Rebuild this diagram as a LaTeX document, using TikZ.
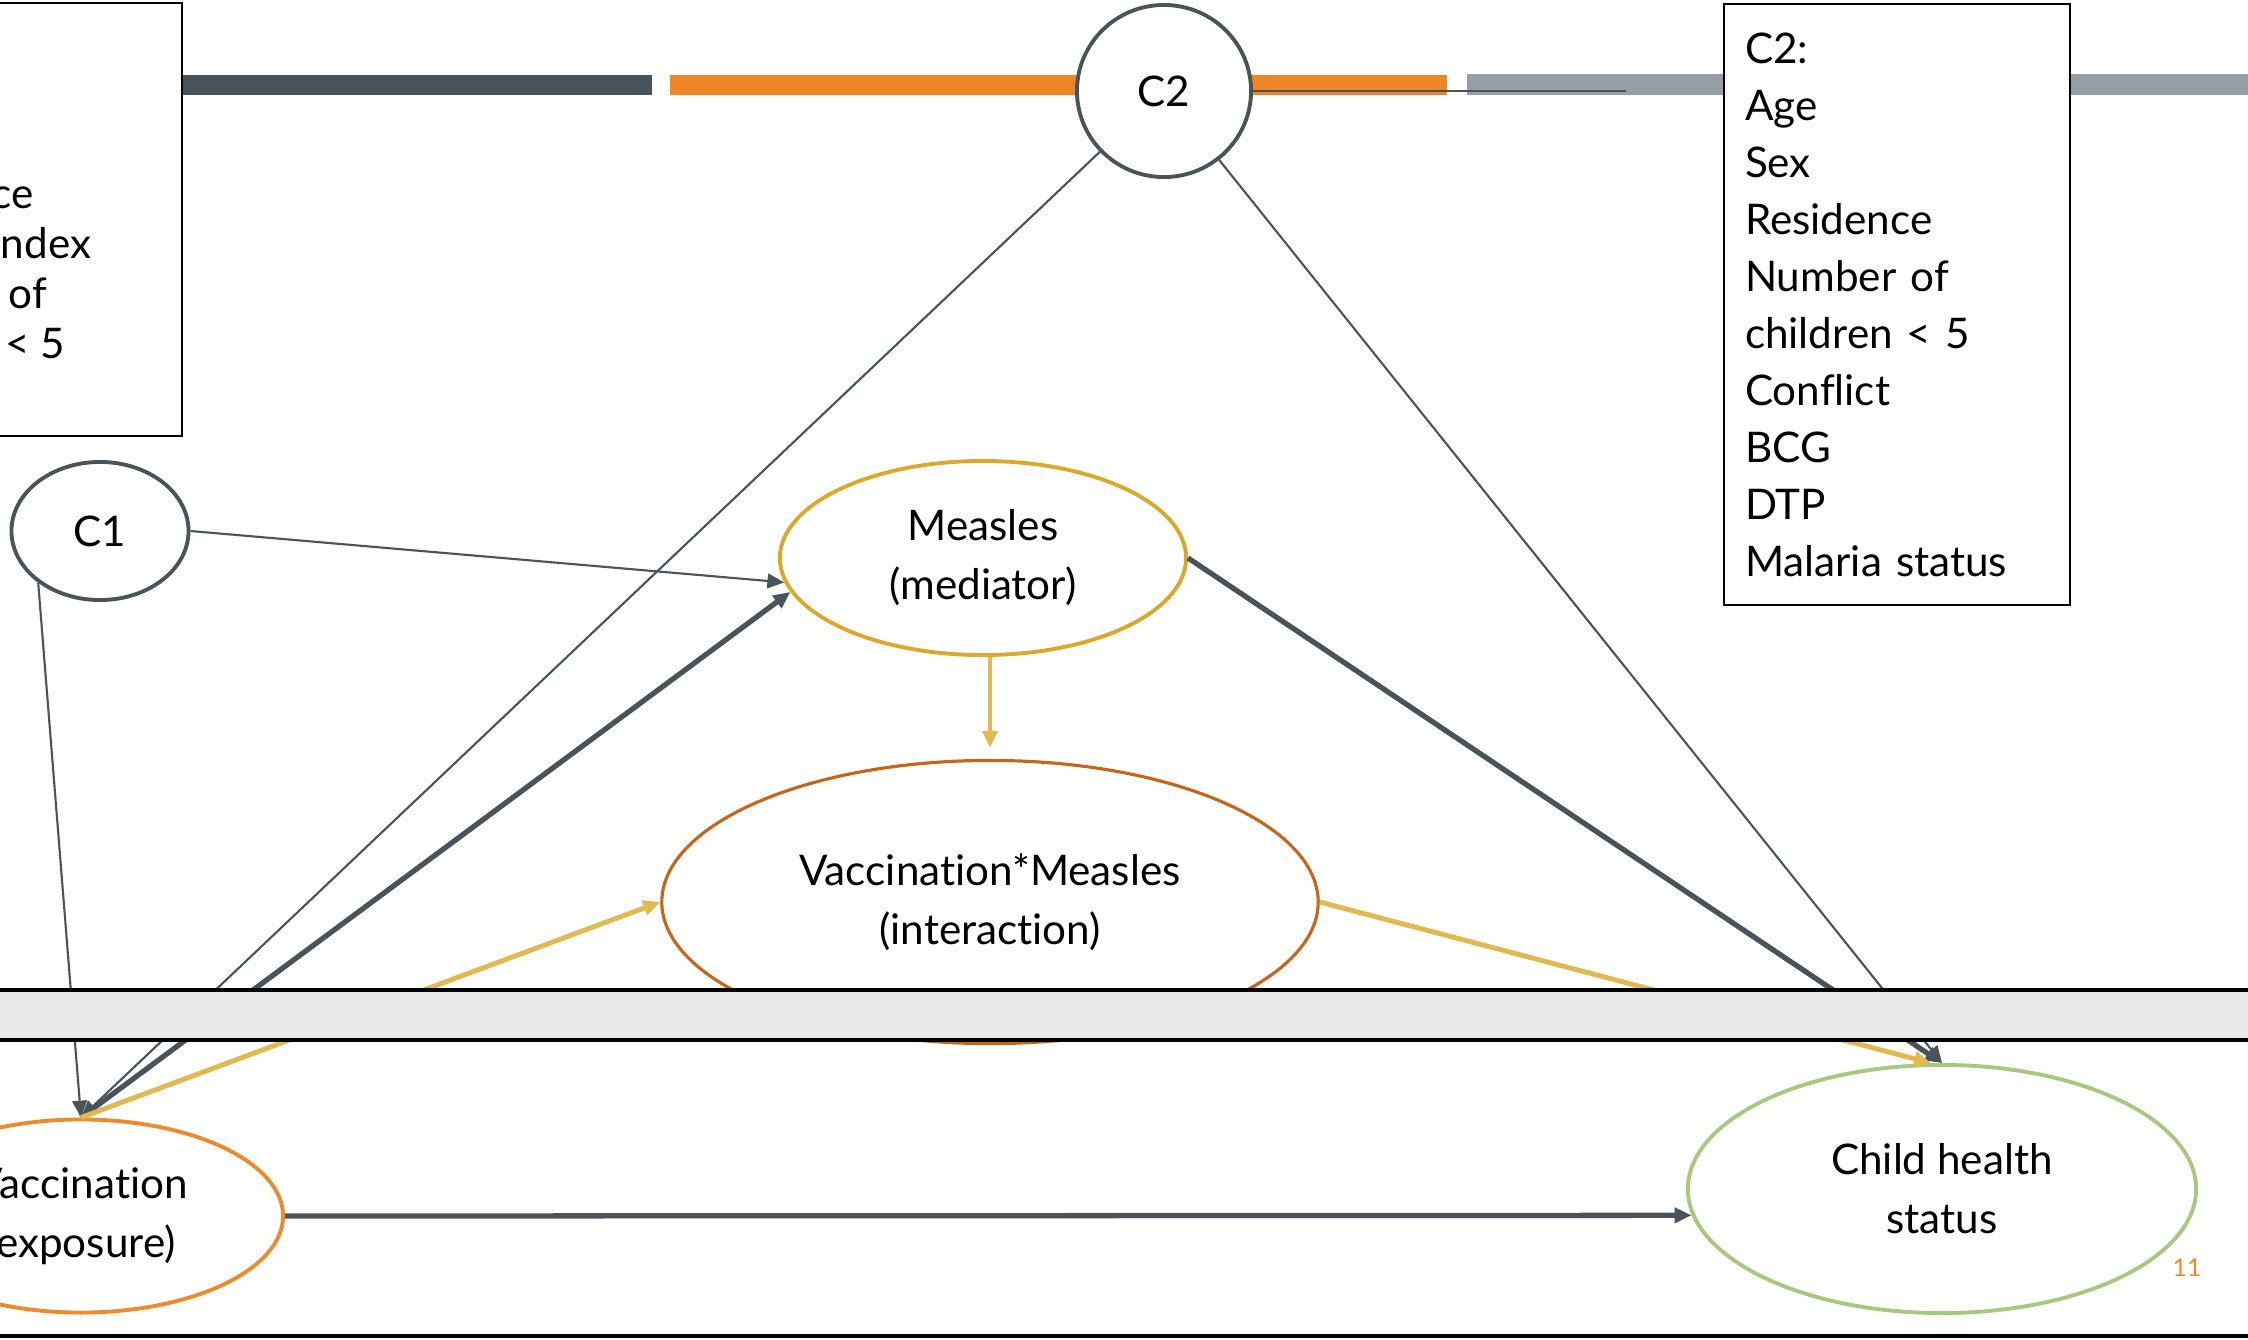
\documentclass[tikz,border=0pt]{standalone}
\usepackage{fontspec}
\setmainfont{Lato}[Ligatures=NoCommon]
\usetikzlibrary{shapes.geometric,arrows.meta,positioning}

\definecolor{slate}{HTML}{48535A}
\definecolor{barorange}{HTML}{EE8628}
\definecolor{bargray}{HTML}{969FA8}
\definecolor{gold}{HTML}{DCA82A}
\definecolor{mustard}{HTML}{E2B94E}
\definecolor{rust}{HTML}{C4661B}
\definecolor{tangerine}{HTML}{EE8A2C}
\definecolor{sage}{HTML}{A8C77F}
\definecolor{bandgray}{HTML}{E9E9E9}

\begin{document}
\begin{tikzpicture}[x=0.01cm, y=-0.01cm, font=\fontsize{12}{16.8}\selectfont,
        >={Triangle[length=4.8pt,width=4.2pt]},
        var/.style={ellipse, draw, fill=white, line width=1.1pt, inner sep=0pt, align=center},
        conf/.style={var, draw=slate},
        listbox/.style={draw=black, fill=white, line width=0.6pt, inner sep=0pt},
        weak/.style={draw=slate, line width=0.6pt},
        strong/.style={draw=slate, line width=1.5pt},
        yellowline/.style={draw=mustard, line width=1.4pt}]
        \useasboundingbox (0,0) rectangle (2248,1339);
        \clip (0,0) rectangle (2248,1339);
        \fill[slate] (183,75) rectangle (652,95);
        \fill[barorange] (670,75) rectangle (1447,95);
        \fill[bargray] (1467,74) rectangle (2248,95);
        \node[listbox, anchor=north east, minimum width=5cm, minimum height=4.33cm] (c1list) at (183,2) {};
        \node[anchor=north west, align=left, inner sep=0pt, font=\fontsize{12}{14.2}\selectfont] (c1items) at (-154,177)
            {Residence\\Wealth index\\Number of\\children < 5};
        \node[listbox, anchor=north west, align=left, text width=3.04cm, inner xsep=0.21cm,
            minimum height=6.01cm, font=\fontsize{12}{16.2}\selectfont] (c2list) at (1723,3)
            {C2:\\Age\\Sex\\Residence\\Number of\\children < 5\\Conflict\\BCG\\DTP\\Malaria status};
        \node[conf, minimum width=1.74cm, minimum height=1.72cm] (c2) at (1164,91) {C2};
        \node[conf, minimum width=1.77cm, minimum height=1.38cm] (c1) at (100,531) {C1};
        \node[var, draw=gold, minimum width=4.06cm, minimum height=1.94cm] (meas) at (983,558) {Measles\\(mediator)};
        \node[var, draw=rust, line width=0.9pt, minimum width=6.56cm, minimum height=2.83cm] (inter) at (990,902)
            {Vaccination*Measles\\(interaction)};
        \node[var, draw=tangerine, minimum width=4.04cm, minimum height=1.93cm] (vac) at (81,1216) {Vaccination\\(exposure)};
        \node[var, draw=sage, minimum width=5.08cm, minimum height=2.48cm] (child) at (1942,1189) {Child health\\status};
        \node[text=tangerine, inner sep=0pt, font=\fontsize{7}{8}\selectfont] (pgnum) at (2187,1268) {11};
        \coordinate (c2tail) at (1626,91);
        \draw[weak] (c2.east) -- (c2tail);
        \path[->]
        (c1.east)
        edge[weak] (meas.187)
        (c1.220)
        edge[weak] (vac.north)
        (c2)
        edge[weak] (vac.north)
        edge[weak] (child.north)
        (vac.north)
        edge[strong] (meas.190)
        edge[yellowline] (inter.west)
        (vac.east)
        edge[strong] (child.186)
        (meas.south -| inter.north)
        edge[yellowline, shorten >=0.11cm] (inter.north)
        (meas.east)
        edge[strong] (child.north)
        (inter.east)
        edge[yellowline] (child.95);
        \fill[bandgray] (0,990) rectangle (2248,1040);
        \draw[line width=1.4pt] (0,990) -- (2248,990) (0,1040) -- (2248,1040);
        \draw[line width=1.4pt] (0,1336) -- (2248,1336);
    \end{tikzpicture}
\end{document}
